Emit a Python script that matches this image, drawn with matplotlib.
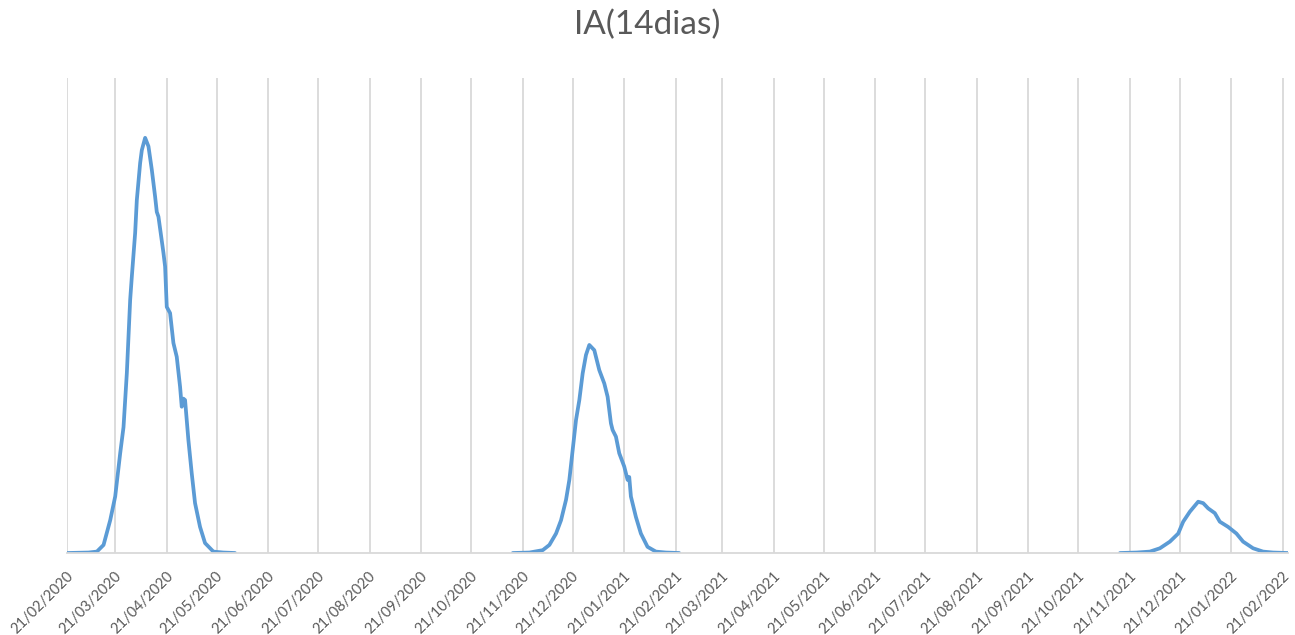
import matplotlib
matplotlib.use("Agg")
import matplotlib.pyplot as plt
import matplotlib.transforms as mtransforms
import pandas as pd

title = "IA(14dias)"

# Wave 1 (2020)
w1_dates = ["2020-02-21", "2020-03-05", "2020-03-10", "2020-03-14", "2020-03-18", "2020-03-21",
            "2020-03-24", "2020-03-26", "2020-03-28", "2020-03-30", "2020-03-31",
            "2020-04-02", "2020-04-03", "2020-04-05", "2020-04-06", "2020-04-08",
            "2020-04-10", "2020-04-12", "2020-04-14", "2020-04-15", "2020-04-16",
            "2020-04-19", "2020-04-20", "2020-04-21", "2020-04-23", "2020-04-25",
            "2020-04-27", "2020-04-29", "2020-04-30", "2020-05-01", "2020-05-02",
            "2020-05-04", "2020-05-06", "2020-05-08", "2020-05-11", "2020-05-14",
            "2020-05-19", "2020-05-25", "2020-06-01"]
w1_values = [0, 1, 3, 17, 69, 119,
             210, 265, 379, 533, 582,
             674, 743, 821, 848, 874,
             856, 807, 750, 718, 708,
             632, 603, 518, 505, 442,
             413, 350, 308, 325, 322,
             238, 168, 105, 55, 21,
             3, 1, 0]

# Wave 2 (2020-2021)
w2_dates = ["2020-11-15", "2020-11-25", "2020-12-03", "2020-12-07", "2020-12-11", "2020-12-14",
            "2020-12-17", "2020-12-19", "2020-12-21", "2020-12-23", "2020-12-25",
            "2020-12-27", "2020-12-29", "2020-12-31", "2021-01-03", "2021-01-06",
            "2021-01-09", "2021-01-11", "2021-01-13", "2021-01-14", "2021-01-16",
            "2021-01-18", "2021-01-21", "2021-01-23", "2021-01-24", "2021-01-25",
            "2021-01-28", "2021-01-31", "2021-02-04", "2021-02-09", "2021-02-15", "2021-02-23"]
w2_values = [0, 1, 6, 17, 41, 69,
             112, 154, 217, 280, 322,
             378, 417, 438, 427, 385,
             357, 329, 273, 259, 245,
             210, 182, 154, 160, 119,
             76, 41, 13, 3, 1, 0]

# Wave 3 (2021-2022)
w3_dates = ["2021-11-15", "2021-11-25", "2021-12-03", "2021-12-09", "2021-12-15", "2021-12-20",
            "2021-12-23", "2021-12-27", "2022-01-01", "2022-01-04", "2022-01-07",
            "2022-01-11", "2022-01-14", "2022-01-19", "2022-01-24", "2022-01-28",
            "2022-02-03", "2022-02-09", "2022-02-15", "2022-02-24"]
w3_values = [0, 1, 3, 10, 24, 41,
             66, 87, 108, 105, 94,
             84, 66, 55, 41, 24,
             10, 3, 1, 0]

tick_dates = pd.date_range("2020-02-21", "2022-02-21", freq=pd.DateOffset(months=1))
tick_labels = [d.strftime("%d/%m/%Y") for d in tick_dates]

plt.rcParams['font.family'] = ['Lato', 'DejaVu Sans']

fig = plt.figure(figsize=(12.95, 6.35), dpi=100)
ax = fig.add_axes([0.0517, 0.1291, 0.9429, 0.7481])

line_color = "#5B9BD5"
for d, v in [(w1_dates, w1_values), (w2_dates, w2_values), (w3_dates, w3_values)]:
    ax.plot(pd.to_datetime(d), v, color=line_color, lw=2.7, solid_joinstyle="round",
            solid_capstyle="round")

ax.set_xlim(pd.Timestamp("2020-02-21"), pd.Timestamp("2022-02-24"))
ax.set_ylim(0, 1000)
ax.set_yticks([])
ax.set_xticks(tick_dates)
ax.set_xticklabels(tick_labels, rotation=45, ha="right", va="center",
                   rotation_mode="anchor", fontsize=10.5, color="#595959")
ax.tick_params(axis="x", length=0, pad=15)
ax.grid(axis="x", color="#D9D9D9", lw=1.3)
ax.set_axisbelow(True)
for s in ["top", "left", "right"]:
    ax.spines[s].set_visible(False)
ax.spines["bottom"].set_color("#D9D9D9")
ax.spines["bottom"].set_linewidth(1.3)

offset = mtransforms.ScaledTranslation(4 / 100, 0, fig.dpi_scale_trans)
for lab in ax.get_xticklabels():
    lab.set_transform(lab.get_transform() + offset)

fig.text(0.5, 0.961, title, ha="center", va="center", fontsize=24, color="#595959")

fig.savefig("out.png", dpi=100)
